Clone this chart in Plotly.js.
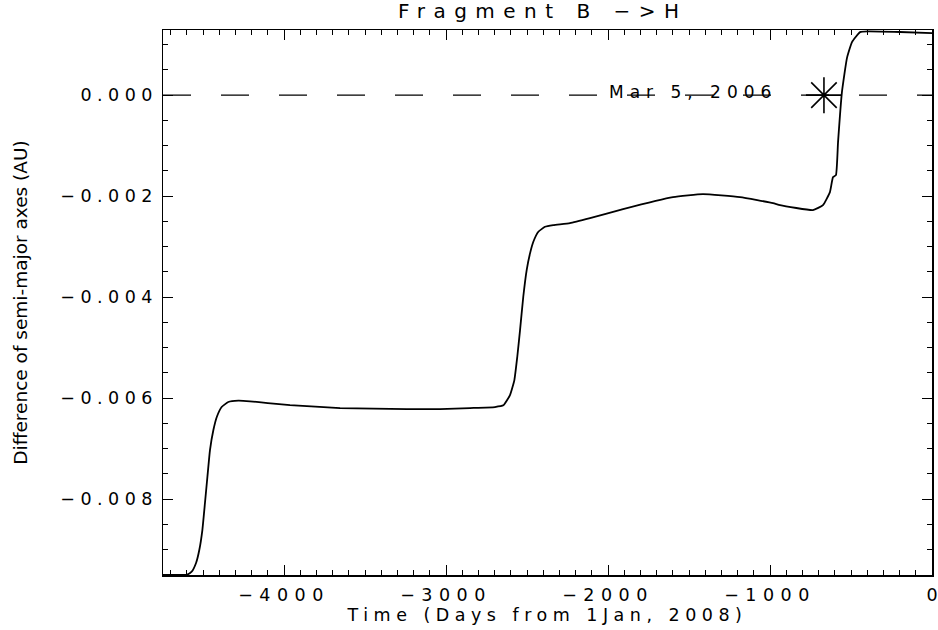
<!DOCTYPE html>
<html>
<head>
<meta charset="utf-8">
<script src="https://cdn.plot.ly/plotly-3.0.1.min.js"></script>
<style>
  body { margin: 0; background: #fff; }
  .gtitle { letter-spacing: 8.5px; }
  .xtitle { letter-spacing: 5.5px; }
  .ytick text { letter-spacing: 5.5px; }
  .xtick text { letter-spacing: 6.5px; }
  .xtick:last-of-type text { letter-spacing: 0px; }
  .annotation-text { letter-spacing: 6px; }
</style>
</head>
<body>
<div id="chart" style="width:938px;height:630px;"></div>
<script>
// Days from 1 Jan 2008
const days = [-4747,-4673,-4601,-4570,-4543,-4523,-4504,-4488,-4473,-4457,-4436,-4415,-4385,-4344,-4282,-4210,-4100,-3963,-3654,-3241,-3037,-2852,-2698,-2646,-2605,-2578,-2560,-2543,-2523,-2502,-2481,-2461,-2430,-2389,-2338,-2235,-2111,-1907,-1599,-1414,-1185,-981,-938,-735,-673,-630,-611,-593,-580,-556,-525,-494,-444,-395,-198,0];
// Difference of semi-major axes (AU)
const deltaA = [-0.009505,-0.009505,-0.009500,-0.009440,-0.009267,-0.009010,-0.008614,-0.008079,-0.007564,-0.007030,-0.006634,-0.006376,-0.006178,-0.006079,-0.006053,-0.006065,-0.006100,-0.006139,-0.006198,-0.006218,-0.006218,-0.006198,-0.006178,-0.006145,-0.005941,-0.005644,-0.005182,-0.004653,-0.003994,-0.003465,-0.003129,-0.002905,-0.002707,-0.002608,-0.002574,-0.002535,-0.002436,-0.002257,-0.002020,-0.001960,-0.002020,-0.002139,-0.002178,-0.002277,-0.002178,-0.001921,-0.001624,-0.001584,-0.000931,0.000059,0.000733,0.001050,0.001248,0.001262,0.001250,0.001228];

const eventDay = [-667];
const eventValue = [0];
const eventLabel = "Mar 5, 2006";
const referenceLevel = 0;

const xTickVals = [-4000,-3000,-2000,-1000,0];
const yTickVals = [-0.008,-0.006,-0.004,-0.002,0];

const traces = [
  {
    x: days, y: deltaA, type: 'scatter', mode: 'lines',
    line: {color: '#000', width: 1.8, shape: 'spline', smoothing: 0.4},
    hoverinfo: 'skip', showlegend: false
  },
  {
    x: eventDay, y: eventValue, type: 'scatter', mode: 'markers',
    marker: {symbol: 'asterisk-open', size: 30, color: '#000', line: {color: '#000', width: 1.6}},
    showlegend: false, hoverinfo: 'skip'
  }
];

const tickFont = {family: 'DejaVu Sans', size: 17.5, color: '#000'};

const layout = {
  width: 938, height: 630,
  margin: {l: 163, r: 6, t: 30, b: 55},
  paper_bgcolor: '#fff', plot_bgcolor: '#fff',
  showlegend: false,
  title: {
    text: 'Fragment B \u2212>H',
    font: {family: 'DejaVu Sans', size: 20, color: '#000'},
    x: 0.494, xref: 'paper', xanchor: 'center', y: 0.982, yanchor: 'middle'
  },
  xaxis: {
    range: [-4747, 0],
    tickvals: xTickVals,
    ticks: 'inside', ticklen: 10, tickwidth: 1, tickcolor: '#000',
    minor: {dtick: 100, tick0: 0, ticks: 'inside', ticklen: 5, tickwidth: 1, tickcolor: '#000'},
    showline: true, linecolor: '#000', linewidth: 1.5, mirror: 'allticks',
    showgrid: false, zeroline: false,
    tickfont: tickFont,
    ticklabelstandoff: 3,
    ticklabeloverflow: 'allow',
    title: {text: 'Time (Days from 1Jan, 2008)', font: {family: 'DejaVu Sans', size: 17.5, color: '#000'}, standoff: 2}
  },
  yaxis: {
    range: [-0.009505, 0.00129],
    tickvals: yTickVals,
    tickformat: '.3f',
    ticks: 'inside', ticklen: 10, tickwidth: 1, tickcolor: '#000',
    minor: {dtick: 0.0005, tick0: 0, ticks: 'inside', ticklen: 5, tickwidth: 1, tickcolor: '#000'},
    showline: true, linecolor: '#000', linewidth: 1.5, mirror: 'allticks',
    showgrid: false, zeroline: false,
    tickfont: tickFont,
    ticklabelstandoff: 0,
    ticklabeloverflow: 'allow',
    title: {text: 'Difference of semi-major axes (AU)', font: {family: 'DejaVu Sans', size: 18.5, color: '#000'}, standoff: 28}
  },
  shapes: [{
    type: 'line', xref: 'paper', x0: 0, x1: 1, yref: 'y', y0: referenceLevel, y1: referenceLevel,
    line: {color: '#000', width: 1.2, dash: '28px,30px'}, layer: 'below'
  }],
  annotations: [{
    x: eventDay[0], y: eventValue[0], xref: 'x', yref: 'y',
    text: eventLabel, showarrow: false,
    xanchor: 'right', yanchor: 'middle', xshift: -45, yshift: 3,
    font: {family: 'DejaVu Sans', size: 17, color: '#000'}
  }]
};

Plotly.newPlot('chart', traces, layout, {staticPlot: true, displayModeBar: false});
</script>
</body>
</html>
